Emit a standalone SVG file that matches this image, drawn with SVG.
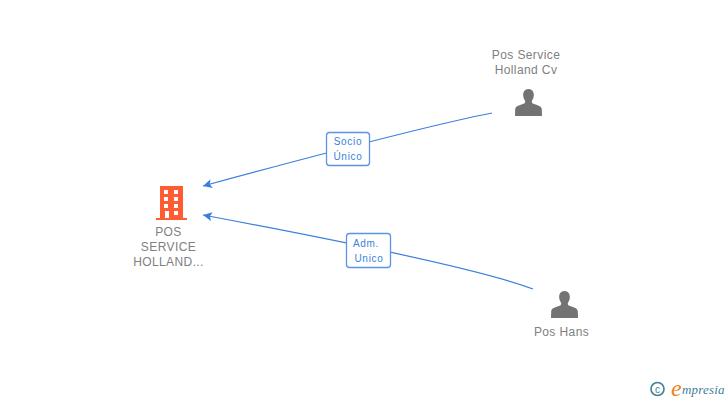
<svg xmlns="http://www.w3.org/2000/svg" width="728" height="400" viewBox="0 0 728 400">
<style>
.n{font-family:"Liberation Sans",Arial,sans-serif;font-size:12px;fill:#808080;text-anchor:middle;letter-spacing:.4px}
.l{font-family:"Liberation Sans",Arial,sans-serif;font-size:10px;fill:#3a7fdc;text-anchor:middle;letter-spacing:.7px}
.c{fill:none;stroke:#3a7fdc;stroke-width:1.2}
.b{fill:#fff;stroke:#5b94e4;stroke-width:1.3}
.p{fill:#737373}
</style>
<defs>
<marker id="a" markerUnits="userSpaceOnUse" markerWidth="10" markerHeight="10" refX="9" refY="5" orient="auto"><path d="M0 0.5L9 5L0 9.500L2 5Z" fill="#3a7fdc"/></marker>
<g id="person"><path class="p" d="M0 -14.500C-3.800 -14.500 -5.600 -11.500 -5.300 -8C-5.100 -5.500 -4.300 -3.900 -3.300 -2.600C-3.300 -1 -3.600 -0.300 -5 0.300C-8.500 1.600 -12.800 2.600 -13.300 5.500L-13.500 12.500L13.500 12.500L13.300 5.500C12.800 2.600 8.500 1.600 5 0.300C3.600 -0.300 3.300 -1 3.300 -2.600C4.300 -3.900 5.100 -5.500 5.300 -8C5.600 -11.500 3.800 -14.500 0 -14.500Z"/></g>
</defs>
<g id="connectors">
<path class="c" d="M492 113Q420 127 203 186" marker-end="url(#a)"/>
<path class="c" d="M533 289Q470 265 203 215" marker-end="url(#a)"/>
</g>
<g id="node-company">
<path fill="#ff5c33" fill-rule="evenodd" d="M160 186H183V218H187V220H156V218H160ZM164 190V194H168V190ZM174 190V194H178V190ZM164 197V201H168V197ZM174 197V201H178V197ZM164 204V208H168V204ZM174 204V208H178V204ZM165 211V218H169V211ZM174 211V215H178V211Z"/>
<text class="n"><tspan x="168.500" y="236">POS</tspan><tspan x="168.500" y="251">SERVICE</tspan><tspan x="168.500" y="266">HOLLAND...</tspan></text>
</g>
<g id="node-pos-service">
<use href="#person" x="528.500" y="103.500"/>
<text class="n"><tspan x="526" y="59">Pos Service</tspan><tspan x="526" y="74">Holland Cv</tspan></text>
</g>
<g id="node-pos-hans">
<use href="#person" x="564.500" y="305.500"/>
<text class="n" x="561.500" y="336">Pos Hans</text>
</g>
<g id="label-socio">
<rect class="b" x="326.500" y="132.500" width="43" height="33" rx="3"/>
<text class="l"><tspan x="348" y="145">Socio</tspan><tspan x="348" y="160">Único</tspan></text>
</g>
<g id="label-adm">
<rect class="b" x="346.500" y="233.500" width="44" height="34" rx="3"/>
<text class="l"><tspan x="366" y="247">Adm.</tspan><tspan x="369" y="262">Unico</tspan></text>
</g>
<g id="watermark">
<circle cx="657.500" cy="389" r="6.500" fill="none" stroke="#3f7f96" stroke-width="1.600"/>
<text x="657.500" y="392.500" font-family="Liberation Sans,sans-serif" font-size="10" fill="#3f7f96" text-anchor="middle">c</text>
<text x="671" y="396" font-family="Liberation Serif,serif" font-style="italic" font-size="24" fill="#f08020">e</text>
<text x="682" y="394" font-family="Liberation Serif,serif" font-style="italic" font-size="13" fill="#3f7f96" letter-spacing=".2">mpresia</text>
</g>
</svg>
